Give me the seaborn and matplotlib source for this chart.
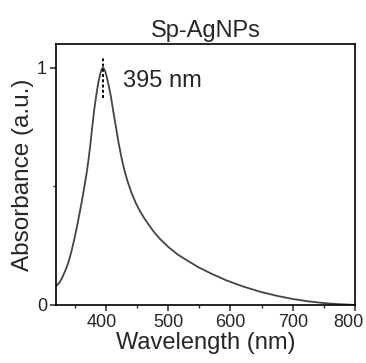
import matplotlib
matplotlib.use('Agg')
import matplotlib.pyplot as plt
import matplotlib.transforms as mtransforms
from matplotlib.ticker import MultipleLocator
import pandas as pd
import seaborn as sns

# UV-vis spectrum
wavelength = [320, 325, 330, 335, 339, 342, 345, 349, 353, 357, 361, 365, 369,
              372, 375, 378, 381, 385, 388, 391, 393, 395, 397, 399, 402, 405,
              408, 412, 416, 420, 425, 430, 435, 441, 448, 455, 463, 471, 479,
              487, 500, 515, 532, 550, 570, 593, 620, 647, 675, 700, 725, 753,
              775, 800]
absorbance = [0.080, 0.092, 0.115, 0.145, 0.172, 0.198, 0.228, 0.272, 0.322, 0.375,
              0.430, 0.490, 0.553, 0.608, 0.672, 0.745, 0.815, 0.890, 0.938, 0.974,
              0.991, 1.000, 0.995, 0.985, 0.955, 0.920, 0.880, 0.815, 0.753, 0.690,
              0.622, 0.565, 0.520, 0.474, 0.430, 0.394, 0.360, 0.330, 0.302, 0.278,
              0.245, 0.213, 0.185, 0.157, 0.131, 0.104, 0.078, 0.056, 0.038, 0.025,
              0.015, 0.007, 0.003, 0.0]
peak_nm = 395
peak_label = "395 nm"
title = "Sp-AgNPs"

df = pd.DataFrame({"Wavelength": wavelength, "Absorbance": absorbance})

sns.set_style("ticks")
plt.rcParams['font.family'] = ['Liberation Sans', 'DejaVu Sans']

fig = plt.figure(figsize=(3.66, 3.63), dpi=100)
ax = fig.add_axes([0.153, 0.160, 0.817, 0.719])

sns.lineplot(data=df, x="Wavelength", y="Absorbance", ax=ax,
             color="#4a4242", linewidth=1.3)

# peak marker
ax.plot([peak_nm, peak_nm], [0.873, 1.05], color="black", linestyle=(0, (1.5, 1.2)),
        linewidth=1.4)
ax.text(427, 0.943, peak_label, fontsize=17, va="center", ha="left")

ax.set_xlim(320, 800)
ax.set_ylim(0, 1.1)
ax.set_xticks([400, 500, 600, 700, 800])
ax.xaxis.set_minor_locator(MultipleLocator(50))
ax.set_yticks([0, 1])
ax.yaxis.set_minor_locator(MultipleLocator(0.5))
ax.tick_params(axis="both", which="major", labelsize=13, length=4.5, width=1.1,
               direction="out", pad=2)
ax.tick_params(axis="both", which="minor", length=2.5, width=1.0, direction="out")

for s in ax.spines.values():
    s.set_visible(True)
    s.set_linewidth(1.2)
    s.set_color("black")

# the end labels sit slightly inward in the reference
fig.canvas.draw()
xlabels = ax.get_xticklabels()
for lab, dx in ((xlabels[0], -4), (xlabels[-1], -7)):
    lab.set_transform(lab.get_transform() +
                      mtransforms.ScaledTranslation(dx / 100, 0, fig.dpi_scale_trans))

ax.set_xlabel("Wavelength (nm)", fontsize=17, labelpad=1)
ax.set_ylabel("Absorbance (a.u.)", fontsize=17.5, labelpad=2)
ax.set_title(title, fontsize=17, pad=5)

fig.savefig("out.png", dpi=100)
